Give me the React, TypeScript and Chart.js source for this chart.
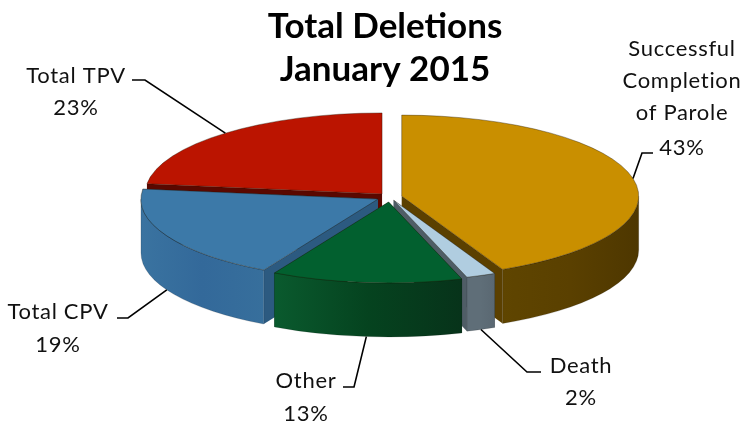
import React, { useEffect, useRef } from "react";
import { Chart, registerables } from "chart.js";

Chart.register(...registerables);

const titleLines = ["Total Deletions", "January 2015"];
const categories = ["Successful Completion of Parole", "Death", "Other", "Total CPV", "Total TPV"];
const values = [43, 2, 13, 19, 23];

const topColors = ["#c98f00", "#b0cde0", "#02602f", "#3c79a8", "#bb1400"];
const faceColors = ["#5b4000", "#4f5d66", "#0b4a26", "#2c5a80", "#5a0800"];
const wallStops = [
  ["#5f4500", "#5a4000", "#4e3700"],
  ["#5f6e78", "#5f6e78", "#5a6872"],
  ["#0a5a2e", "#05431f", "#07331a"],
  ["#3a73a0", "#33699a", "#376f9c"],
  ["#5a0800", "#5a0800", "#5a0800"],
];
const explode = [12, 10, 14.5, 13.5, 12];
const paintOrder = [4, 0, 3, 1, 2];

const SQUASH = 81 / 237;
const DEPTH = 54;
const CENTER_Y = 197;
const SHIFT_X = 5;

const labelLines = [["Successful", "Completion", "of Parole"], ["Death"], ["Other"], ["Total CPV"], ["Total TPV"]];
const labelBaselines = [[56, 88, 120, 155], [373, 405], [388, 421], [319, 352], [83, 115]];
const labelX = [682, 581, 306, 58, 76];
const stubs = [
  [[653, 153], [642, 153]],
  [[541, 372], [527, 372]],
  [[343, 387], [354, 387]],
  [[117, 318], [128, 318]],
  [[132, 80], [145, 80]],
];

function sliceCentre(a: any, i: number) {
  const mid = (a.startAngle + a.endAngle) / 2;
  return {
    mid,
    cx: a.x + SHIFT_X + Math.cos(mid) * explode[i],
    cy: CENTER_Y + SQUASH * Math.sin(mid) * explode[i],
  };
}

const pie3d = {
  id: "pie3d",
  beforeDatasetDraw(chart: any) {
    const ctx = chart.ctx;
    const arcs = chart.getDatasetMeta(0).data;
    const TAU = Math.PI * 2;
    for (const i of paintOrder) {
      const a = arcs[i];
      const R = a.outerRadius;
      const ry = R * SQUASH;
      const { cx, cy } = sliceCentre(a, i);
      ctx.save();
      for (const ang of [a.startAngle, a.endAngle]) {
        const px = cx + R * Math.cos(ang);
        const py = cy + ry * Math.sin(ang);
        ctx.beginPath();
        ctx.moveTo(cx, cy);
        ctx.lineTo(px, py);
        ctx.lineTo(px, py + DEPTH);
        ctx.lineTo(cx, cy + DEPTH);
        ctx.closePath();
        ctx.fillStyle = faceColors[i];
        ctx.fill();
      }
      for (const k of [0, 1, -1]) {
        const from = Math.max(a.startAngle, k * TAU);
        const to = Math.min(a.endAngle, k * TAU + Math.PI);
        if (to <= from) continue;
        const x1 = cx + R * Math.cos(from);
        const x2 = cx + R * Math.cos(to);
        const g = ctx.createLinearGradient(Math.min(x1, x2), 0, Math.max(x1, x2), 0);
        wallStops[i].forEach((c: string, n: number) => g.addColorStop(n / 2, c));
        ctx.beginPath();
        ctx.ellipse(cx, cy, R, ry, 0, from, to, false);
        ctx.ellipse(cx, cy + DEPTH, R, ry, 0, to, from, true);
        ctx.closePath();
        ctx.fillStyle = g;
        ctx.fill();
        ctx.strokeStyle = "rgba(0,0,0,0.25)";
        ctx.lineWidth = 0.6;
        ctx.stroke();
      }
      ctx.restore();
    }
    for (const i of paintOrder) {
      const a = arcs[i];
      const { cx, cy } = sliceCentre(a, i);
      ctx.save();
      ctx.translate(cx, cy);
      ctx.scale(1, SQUASH);
      ctx.translate(-a.x, -a.y);
      a.draw(ctx);
      ctx.restore();
    }
    return false;
  },
  afterDatasetsDraw(chart: any) {
    const ctx = chart.ctx;
    const arcs = chart.getDatasetMeta(0).data;
    ctx.save();
    ctx.strokeStyle = "#000";
    ctx.lineWidth = 1.6;
    arcs.forEach((a: any, i: number) => {
      const { cx, cy, mid } = sliceCentre(a, i);
      const sin = Math.sin(mid);
      const x = cx + a.outerRadius * Math.cos(mid);
      const y = cy + SQUASH * a.outerRadius * sin + (sin > 0 ? DEPTH : 0);
      ctx.beginPath();
      ctx.moveTo(stubs[i][0][0], stubs[i][0][1]);
      ctx.lineTo(stubs[i][1][0], stubs[i][1][1]);
      ctx.lineTo(x, y);
      ctx.stroke();
    });
    ctx.fillStyle = "#111";
    ctx.textAlign = "center";
    ctx.textBaseline = "alphabetic";
    ctx.font = "22px Lato";
    (ctx as any).letterSpacing = "0.7px";
    arcs.forEach((_: any, i: number) => {
      const lines = [...labelLines[i], `${values[i]}%`];
      lines.forEach((txt: string, k: number) => ctx.fillText(txt, labelX[i], labelBaselines[i][k]));
    });
    ctx.restore();
  },
};

export default function App() {
  const ref = useRef<HTMLCanvasElement | null>(null);
  useEffect(() => {
    const chart = new Chart(ref.current as HTMLCanvasElement, {
      type: "pie",
      data: {
        labels: categories,
        datasets: [
          {
            data: values,
            backgroundColor: topColors,
            borderColor: "rgba(30,20,0,0.55)",
            borderWidth: 1,
            clip: false,
          } as any,
        ],
      },
      options: {
        responsive: false,
        animation: false,
        radius: 237,
        layout: { padding: { left: 24, right: 0, top: 0, bottom: 0 } },
        plugins: {
          legend: { display: false },
          tooltip: { enabled: false },
          title: {
            display: true,
            text: titleLines,
            color: "#000",
            font: { family: "Lato", size: 35, weight: "bold", lineHeight: 1.24 },
            padding: { top: 5, bottom: 10 },
          },
        },
      } as any,
      plugins: [pie3d],
    });
    return () => chart.destroy();
  }, []);
  return (
    <div style={{ position: "absolute", left: 0, top: 0, width: 746, height: 423, background: "#fff" }}>
      <canvas ref={ref} width={746} height={423} style={{ display: "block" }} />
    </div>
  );
}
